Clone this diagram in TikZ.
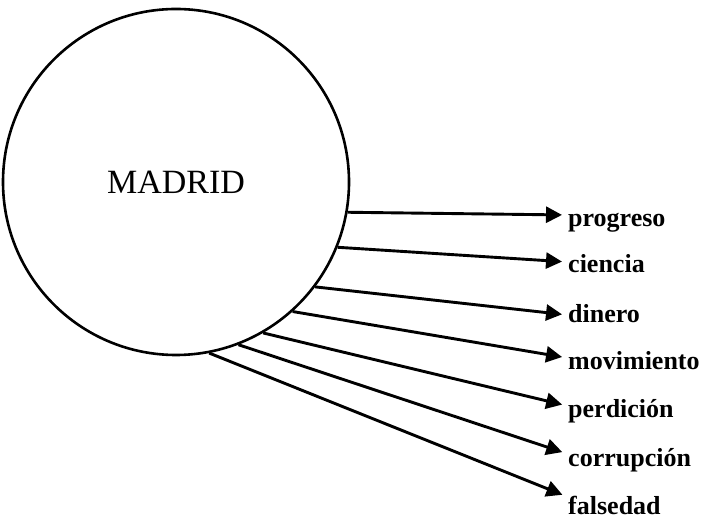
\documentclass[tikz,border=0pt]{standalone}
\usepackage{fontspec}
\setmainfont{Liberation Serif}
\usetikzlibrary{arrows.meta}

\tikzset{
  city/.style={circle, draw, line width=2.6pt, minimum size=346pt, inner sep=0pt,
    font=\fontsize{34}{38}\selectfont},
  idea/.style={anchor=base west, inner sep=0pt,
    font=\fontsize{26}{30}\selectfont\bfseries},
  link/.style={line width=2.9pt, -{Triangle[length=16pt,width=16pt]}, shorten >=6pt}
}

\begin{document}
\begin{tikzpicture}[x=1pt,y=1pt]
    \useasboundingbox (0,0) rectangle (701,519);
    \node[city] (madrid) at (176,337) {MADRID};
    % labels on the right
    \node[idea] (progreso) at (568,292) {progreso};
    \node[idea] (ciencia) at (568,246) {ciencia};
    \node[idea] (dinero) at (568,196) {dinero};
    \node[idea] (movimiento) at (568,149) {movimiento};
    \node[idea] (perdicion) at (568,101) {perdición};
    \node[idea] (corrupcion) at (568,52) {corrupción};
    \node[idea] (falsedad) at (568,5) {falsedad};
    % arrows
    \draw[link] (madrid.-10) -- ([yshift=12pt]progreso.base west);
    \draw[link] (madrid.-22) -- ([yshift=11pt]ciencia.base west);
    \draw[link] (madrid.-37) -- ([yshift=8pt]dinero.base west);
    \draw[link] (madrid.-48) -- ([yshift=12pt]movimiento.base west);
    \draw[link] (madrid.-60) -- ([yshift=12pt]perdicion.base west);
    \draw[link] (madrid.-69) -- ([yshift=13pt]corrupcion.base west);
    \draw[link] (madrid.-79) -- ([yshift=17pt]falsedad.base west);
  \end{tikzpicture}
\end{document}
